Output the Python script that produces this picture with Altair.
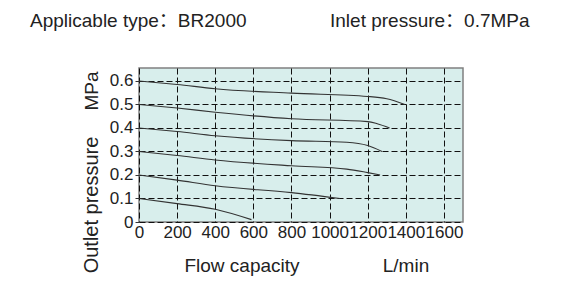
import altair as alt
import pandas as pd

# Curve data
curve_ids = ["0.6", "0.5", "0.4", "0.3", "0.2", "0.1"]
curve_flow = [
    [0, 200, 400, 800, 1200, 1300, 1395],
    [0, 200, 400, 800, 1200, 1250, 1315],
    [0, 200, 400, 800, 1090, 1200, 1275],
    [0, 200, 400, 800, 1090, 1200, 1265],
    [0, 200, 400, 800, 1055],
    [0, 200, 400, 590],
]
curve_press = [
    [0.600, 0.585, 0.567, 0.548, 0.534, 0.524, 0.500],
    [0.500, 0.485, 0.467, 0.439, 0.427, 0.418, 0.400],
    [0.400, 0.385, 0.367, 0.346, 0.339, 0.325, 0.300],
    [0.300, 0.283, 0.264, 0.239, 0.225, 0.210, 0.200],
    [0.200, 0.178, 0.154, 0.125, 0.100],
    [0.100, 0.078, 0.054, 0.010],
]
x_ticks = [0, 200, 400, 600, 800, 1000, 1200, 1400, 1600]
y_ticks = [0, 0.1, 0.2, 0.3, 0.4, 0.5, 0.6]

rows = []
for cid, xs, ys in zip(curve_ids, curve_flow, curve_press):
    for i, (xv, yv) in enumerate(zip(xs, ys)):
        rows.append({"curve": cid, "order": i, "flow": xv, "pressure": yv})
df = pd.DataFrame(rows)

FONT = "Liberation Sans"
HFONT = "Liberation Sans, Noto Sans CJK SC"
W, H = 324, 154

xscale = alt.Scale(domain=[0, 1700], nice=False, zero=True)
yscale = alt.Scale(domain=[0, 0.655], nice=False)

lines = alt.Chart(df).mark_line(color="#333333", strokeWidth=1.1, interpolate="monotone").encode(
    x=alt.X("flow:Q", scale=xscale,
            axis=alt.Axis(values=x_ticks, title=None, grid=True, gridDash=[6, 3], gridColor="#111111",
                          gridWidth=1, gridOpacity=1, ticks=False, domain=False, labelFont=FONT,
                          labelFontSize=17, labelColor="#222222", labelPadding=2, labelFlush=False,
                          format="d")),
    y=alt.Y("pressure:Q", scale=yscale,
            axis=alt.Axis(values=y_ticks, title=None, grid=True, gridDash=[6, 3], gridColor="#111111",
                          gridWidth=1, gridOpacity=1, ticks=True, tickSize=4, tickColor="#333333",
                          domain=False, labelFont=FONT, labelFontSize=17, labelColor="#222222",
                          labelPadding=2,
                          labelExpr="datum.value == 0 ? '0' : format(datum.value, '.1f')")),
    detail="curve:N",
    order="order:Q",
)


def label(txt, x, y, angle=0, align="left", baseline="alphabetic", size=19, font=FONT):
    return alt.Chart(pd.DataFrame({"t": [txt]})).mark_text(
        font=font, fontSize=size, color="#222222", align=align, baseline=baseline, angle=angle
    ).encode(text="t:N", x=alt.value(x), y=alt.value(y))

layers = [
    lines,
    label("Applicable type：BR2000", -109, -41.5, font=HFONT),
    label("Inlet pressure：0.7MPa", 191, -41.5, font=HFONT),
    label("Flow capacity", 103, 203.5, align="center"),
    label("L/min", 267, 203.5, align="center"),
    label("MPa", -47, 23, angle=270, align="center", baseline="middle"),
    label("Outlet pressure", -47, 137, angle=270, align="center", baseline="middle", size=20),
]

chart = alt.layer(*layers).properties(
    width=W, height=H,
    autosize=alt.AutoSizeParams(type="none"),
    padding={"left": 139, "top": 68, "right": 107, "bottom": 78},
).configure_view(
    fill="#d8eeec", stroke="#808080", strokeWidth=1.5
)

chart.save("out.html", embed_options={"renderer": "svg", "actions": False})
